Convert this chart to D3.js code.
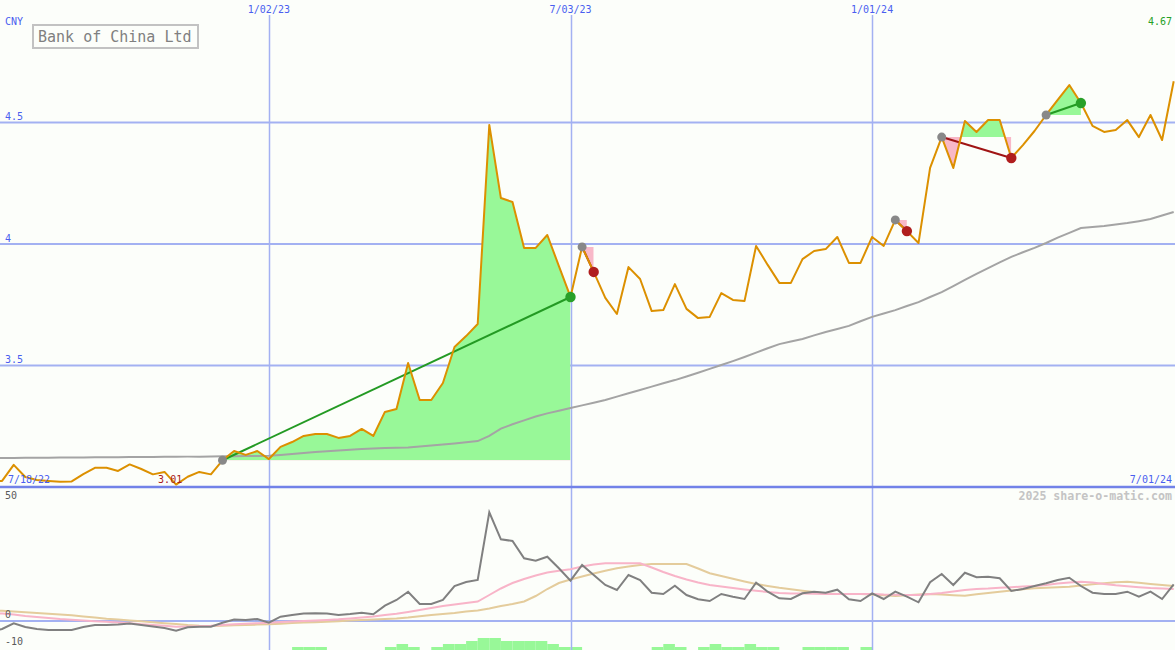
<!DOCTYPE html>
<html><head><meta charset="utf-8">
<script src="https://cdn.jsdelivr.net/npm/d3@7/dist/d3.min.js"></script>
<style>
html,body{margin:0;padding:0;background:#fcfefa;}
svg{display:block;}
text{font-family:"DejaVu Sans Mono",monospace;}
</style></head>
<body>
<svg id="c" width="1175" height="650"></svg>
<script>
// ---------- data ----------
const startDate = new Date(2022, 6, 18);
const endDate = new Date(2024, 6, 1);
const dates = d3.timeMonday.range(startDate, d3.timeDay.offset(endDate, 1));

const price = [
3.025,3.025,3.091,3.041,3.029,3.025,3.022,3.023,3.053,3.079,
3.079,3.066,3.093,3.074,3.052,3.062,3.010,3.042,3.062,3.052,
3.110,3.148,3.132,3.148,3.115,3.165,3.185,3.210,3.218,3.218,
3.202,3.210,3.239,3.210,3.309,3.321,3.510,3.358,3.358,3.428,
3.576,3.621,3.671,4.490,4.189,4.173,3.984,3.984,4.037,3.909,
3.782,3.988,3.885,3.778,3.712,3.905,3.856,3.724,3.728,3.835,
3.733,3.695,3.700,3.798,3.770,3.765,3.992,3.914,3.840,3.840,
3.938,3.971,3.979,4.029,3.922,3.922,4.029,3.992,4.099,4.053,
4.004,4.313,4.440,4.313,4.506,4.461,4.510,4.510,4.354,4.407,
4.465,4.531,4.593,4.654,4.580,4.486,4.461,4.469,4.510,4.440,
4.531,4.428,4.670];

const movingAvg = [
3.119,3.119,3.119,3.120,3.120,3.120,3.121,3.121,3.121,3.122,
3.122,3.122,3.123,3.123,3.123,3.124,3.124,3.125,3.125,3.126,
3.127,3.127,3.128,3.128,3.129,3.132,3.136,3.140,3.144,3.147,
3.150,3.153,3.156,3.158,3.160,3.162,3.163,3.167,3.171,3.175,
3.179,3.184,3.189,3.210,3.240,3.258,3.274,3.290,3.303,3.314,
3.325,3.336,3.347,3.358,3.372,3.386,3.399,3.413,3.427,3.440,
3.455,3.470,3.486,3.502,3.518,3.535,3.553,3.571,3.588,3.599,
3.609,3.624,3.638,3.650,3.663,3.682,3.700,3.714,3.728,3.745,
3.761,3.782,3.802,3.827,3.852,3.877,3.901,3.924,3.947,3.966,
3.984,4.004,4.026,4.046,4.066,4.070,4.074,4.080,4.086,4.094,
4.103,4.117,4.132];

const momentum = [
-4.07,-2.96,-0.85,-2.22,-2.96,-3.33,-3.33,-3.33,-2.22,-1.48,
-1.48,-1.30,-0.93,-1.48,-2.04,-2.59,-3.59,-2.33,-2.11,-2.11,
-0.63,0.56,0.37,0.74,-0.63,1.59,2.22,2.78,2.85,2.78,
2.22,2.59,3.07,2.48,5.67,7.78,10.85,6.30,6.30,7.78,
12.96,14.44,15.19,40.26,30.26,29.63,23.22,22.33,23.81,19.52,
14.93,20.74,17.04,13.33,11.48,17.04,15.19,10.48,10.00,13.07,
9.63,8.04,7.41,10.00,9.00,8.15,14.19,10.85,8.41,8.15,
10.26,10.85,10.48,11.59,8.04,7.41,10.26,8.15,10.85,9.00,
6.93,14.33,17.41,13.33,17.89,16.19,16.41,15.81,11.11,11.85,
12.96,13.96,15.19,16.04,12.96,10.48,10.00,10.00,10.85,9.00,
10.85,8.15,13.59];

const signalAvg = [
2.96,2.78,2.41,1.85,1.48,1.11,0.74,0.48,0.19,-0.07,
-0.26,-0.56,-0.85,-1.19,-1.48,-1.78,-2.11,-2.04,-1.93,-1.78,
-1.48,-1.22,-1.04,-0.81,-0.63,-0.41,-0.15,0.04,0.22,0.41,
0.63,0.96,1.30,1.67,2.22,2.67,3.33,4.07,4.81,5.56,
6.11,6.67,7.22,9.63,12.04,14.07,15.56,16.85,17.96,18.59,
19.15,20.19,20.93,21.37,21.37,21.37,21.37,19.80,18.15,16.67,
15.37,14.26,13.33,12.78,12.22,11.67,11.19,10.74,10.37,10.19,
10.19,10.11,10.00,10.00,10.00,10.00,10.00,9.81,9.74,9.63,
9.63,10.00,10.37,10.93,11.48,11.85,12.04,12.33,12.52,12.74,
12.96,13.33,13.89,14.26,14.56,14.26,13.70,13.22,12.85,12.52,
12.22,12.04,11.85];

const slowAvg = [
3.89,3.78,3.52,3.22,2.96,2.70,2.41,2.11,1.67,1.26,
0.85,0.56,0.19,-0.11,-0.44,-0.81,-1.11,-1.48,-1.74,-1.85,
-1.74,-1.59,-1.48,-1.33,-1.19,-1.00,-0.74,-0.59,-0.44,-0.30,
-0.07,0.15,0.37,0.56,0.74,0.93,1.30,1.78,2.22,2.59,
3.00,3.52,3.89,4.63,5.56,6.30,7.22,9.26,11.85,14.07,
15.37,16.48,17.59,18.59,19.52,20.19,20.74,21.11,21.11,21.11,
21.11,19.44,17.67,16.67,15.63,14.63,13.70,12.96,12.30,11.74,
11.22,10.74,10.19,10.00,10.00,10.00,9.81,9.52,9.26,9.52,
9.81,10.00,9.81,9.56,9.37,9.89,10.37,10.85,11.30,11.74,
12.11,12.30,12.52,12.70,13.11,13.59,13.96,14.33,14.56,14.15,
13.70,13.33,12.96];

const histogram = [
0,0,0,0,0,0,0,0,0,0,
0,0,0,0,0,0,0,0,0,0,
0,0,0,0,0,0,1,1,1,0,
0,0,0,0,1,2,1,0,1,2,
2,3,4,4,3,3,3,3,2,1,
1,0,0,0,0,0,0,1,2,1,
0,1,2,1,1,2,1,1,0,0,
1,1,1,1,0,1,0,0,0,0,
0,0,0,0,0,0,0,0,0,0,
0,0,0,0,0,0,0,0,0,0,
0,0,0];

const signalStart = [20, 51, 78, 82, 91];
const signalEnd   = [50, 52, 79, 88, 94];

const priceTicks = [3.5, 4, 4.5];
const priceTickLabels = ["3.5", "4", "4.5"];
const dateTicks = [new Date(2023,0,2), new Date(2023,6,3), new Date(2024,0,1)];
const dateTickLabels = ["1/02/23", "7/03/23", "1/01/24"];
const lowerTicks = [50, 0, -10];
const lowerTickLabels = ["50", "0", "-10"];
const title = "Bank of China Ltd";
const currency = "CNY";
const lowLabel = "3.01";
const lastLabel = "4.67";
const startLabel = "7/18/22";
const endLabel = "7/01/24";
const credit = "2025 share-o-matic.com";

// ---------- scales ----------
const W = 1175, H = 650;
const x = d3.scaleTime().domain([startDate, endDate]).range([-9.5, 1173.7]);
const y = d3.scaleLinear().domain([3.5, 4.5]).range([365.5, 122.5]);
const y2 = d3.scaleLinear().domain([-10, 50]).range([648, 486]);
const yBar = d3.scaleLinear().domain([0, 4]).range([650, 638]);

const svg = d3.select("#c");
svg.append("rect").attr("width", W).attr("height", H).attr("fill", "#fcfefa");

const gridCol = "#a3b1f2";
const blueText = "#4a5ef0";

// histogram bars (lower panel bottom)
const gBars = svg.append("g");
histogram.forEach((v, i) => {
  if (!v) return;
  const x0 = x(dates[i]), x1 = x(d3.timeWeek.offset(dates[i], 1));
  gBars.append("rect").attr("x", x0).attr("width", x1 - x0)
    .attr("y", yBar(v)).attr("height", yBar(0) - yBar(v))
    .attr("fill", "#98f898");
});

// horizontal grid lines
priceTicks.forEach(t => {
  svg.append("line").attr("x1", 0).attr("x2", W).attr("y1", y(t)).attr("y2", y(t))
    .attr("stroke", gridCol).attr("stroke-width", 2);
});
svg.append("line").attr("x1", 0).attr("x2", W).attr("y1", y2(0)).attr("y2", y2(0))
  .attr("stroke", gridCol).attr("stroke-width", 2);
// vertical grid lines
dateTicks.forEach(d => {
  const xx = Math.round(x(d)) + 0.5;
  svg.append("line").attr("x1", xx).attr("x2", xx).attr("y1", 15).attr("y2", H)
    .attr("stroke", gridCol).attr("stroke-width", 1.5);
});
// panel separator
svg.append("line").attr("x1", 0).attr("x2", W).attr("y1", 487).attr("y2", 487)
  .attr("stroke", "#7282e8").attr("stroke-width", 2.5);

// ---------- signal fills ----------
const defs = svg.append("defs");
signalStart.forEach((s, k) => {
  const e = signalEnd[k];
  const base = y(price[s]);
  const xs = x(dates[s]), xe = x(dates[e]);
  const idx = d3.range(s, e + 1);
  const area = d3.area().x(i => x(dates[i])).y0(base).y1(i => y(price[i]));
  defs.append("clipPath").attr("id", "up" + k).append("rect")
    .attr("x", xs).attr("width", xe - xs).attr("y", 0).attr("height", base);
  defs.append("clipPath").attr("id", "dn" + k).append("rect")
    .attr("x", xs).attr("width", xe - xs).attr("y", base).attr("height", H - base);
  svg.append("path").attr("d", area(idx)).attr("fill", "#98f898")
    .attr("clip-path", `url(#up${k})`);
  svg.append("path").attr("d", area(idx)).attr("fill", "#f8b8c8")
    .attr("clip-path", `url(#dn${k})`);
});

// long moving average
const idxAll = d3.range(dates.length);
const lineOf = (arr, ys) => d3.line().x(i => x(dates[i])).y(i => ys(arr[i]));
svg.append("path").attr("d", lineOf(movingAvg, y)(idxAll))
  .attr("fill", "none").attr("stroke", "#a4a4a4").attr("stroke-width", 2);

// lower panel lines
svg.append("path").attr("d", lineOf(slowAvg, y2)(idxAll))
  .attr("fill", "none").attr("stroke", "#e4cc9c").attr("stroke-width", 2);
svg.append("path").attr("d", lineOf(signalAvg, y2)(idxAll))
  .attr("fill", "none").attr("stroke", "#f8b4c8").attr("stroke-width", 2);
svg.append("path").attr("d", lineOf(momentum, y2)(idxAll))
  .attr("fill", "none").attr("stroke", "#808080").attr("stroke-width", 2);

// signal lines
signalStart.forEach((s, k) => {
  const e = signalEnd[k];
  const up = price[e] >= price[s];
  svg.append("line").attr("x1", x(dates[s])).attr("y1", y(price[s]))
    .attr("x2", x(dates[e])).attr("y2", y(price[e]))
    .attr("stroke", up ? "#239a23" : "#a01414").attr("stroke-width", 2);
});

// price line
svg.append("path").attr("d", lineOf(price, y)(idxAll))
  .attr("fill", "none").attr("stroke", "#dc9000").attr("stroke-width", 2)
  .attr("stroke-linejoin", "round");

// dots
signalStart.forEach((s, k) => {
  const e = signalEnd[k];
  const up = price[e] >= price[s];
  svg.append("circle").attr("cx", x(dates[s])).attr("cy", y(price[s])).attr("r", 4.5)
    .attr("fill", "#888888");
  svg.append("circle").attr("cx", x(dates[e])).attr("cy", y(price[e])).attr("r", 5.2)
    .attr("fill", up ? "#28a028" : "#b01e1e");
});

// ---------- text ----------
const txt = (t, xx, yy, opts = {}) => svg.append("text").text(t).attr("x", xx).attr("y", yy)
  .attr("font-size", opts.size || 10).attr("fill", opts.fill || blueText)
  .attr("text-anchor", opts.anchor || "start")
  .attr("font-weight", opts.weight || "normal");

txt(currency, 5, 25);
priceTicks.forEach((t, i) => txt(priceTickLabels[i], 5, y(t) - 2.5));
dateTicks.forEach((d, i) => txt(dateTickLabels[i], x(d), 13, {anchor: "middle"}));
txt(lastLabel, 1172, 25, {fill: "#26a026", anchor: "end"});
txt(startLabel, 8, 483);
txt(endLabel, 1172, 483, {anchor: "end"});
const lowIdx = d3.minIndex(price);
txt(lowLabel, x(dates[lowIdx]) - 18, 483, {fill: "#a81c1c"});
txt(credit, 1172, 500, {fill: "#c4c4c4", anchor: "end", size: 11.6, weight: "bold"});
const lowerLabelY = [499, 618, 645];
lowerTicks.forEach((t, i) => txt(lowerTickLabels[i], 5, lowerLabelY[i], {fill: "#5a5a5a"}));

// title box
svg.append("rect").attr("x", 33).attr("y", 25).attr("width", 165).attr("height", 23)
  .attr("fill", "none").attr("stroke", "#c2c2c2").attr("stroke-width", 2);
txt(title, 38, 42, {size: 15, fill: "#808080"});
</script>
</body></html>
